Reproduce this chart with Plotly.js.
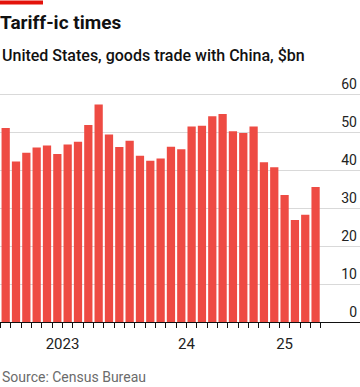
<!DOCTYPE html>
<html>
<head>
<meta charset="utf-8">
<script src="https://cdn.plot.ly/plotly-3.0.1.min.js"></script>
<style>
  html, body { margin: 0; padding: 0; background: #ffffff; }
  #chart { width: 360px; height: 387px; }
</style>
</head>
<body>
<div id="chart"></div>
<script>
// Monthly US goods trade with China, $bn (Jan 2023 - Jul 2025)
const months = [
  '2023-01','2023-02','2023-03','2023-04','2023-05','2023-06','2023-07','2023-08','2023-09','2023-10','2023-11','2023-12',
  '2024-01','2024-02','2024-03','2024-04','2024-05','2024-06','2024-07','2024-08','2024-09','2024-10','2024-11','2024-12',
  '2025-01','2025-02','2025-03','2025-04','2025-05','2025-06','2025-07'
];
const values = [
  51.1, 42.3, 44.6, 46.0, 46.5, 44.3, 46.8, 47.5, 51.9, 57.3, 49.4, 46.1,
  47.8, 43.8, 42.5, 43.1, 46.2, 45.5, 51.5, 51.7, 54.2, 54.8, 50.3, 49.8,
  51.5, 42.1, 40.8, 33.5, 26.9, 28.3, 35.6
];
const years = ['2023', '2024', '2025'];
const yearLabels = ['2023', '24', '25'];
const yTickVals = [0, 10, 20, 30, 40, 50, 60];

// derived positions (index axis)
const xIdx = months.map((m, i) => i);
const monthBoundaries = months.map((m, i) => i - 0.5).concat([months.length - 0.5]);
const yearStarts = [];
const labelPos = [];
years.forEach(y => {
  const idx = months.map((m, i) => m.startsWith(y) ? i : -1).filter(i => i >= 0);
  labelPos.push((idx[0] + idx[idx.length - 1]) / 2);
  if (idx[0] > 0) yearStarts.push(idx[0] - 0.5);
});

const W = 360, H = 387;
const mT = 63.5, mB = 65;
const plotH = H - mT - mB;
const py = p => (H - mB - p) / plotH; // pixel -> paper y

const xRange = [-0.55, 34.3];

const trace = {
  type: 'bar',
  x: xIdx,
  y: values,
  marker: { color: '#ee4b43', line: { width: 0 } },
  hoverinfo: 'skip'
};

const layout = {
  width: W, height: H,
  margin: { l: 0, r: 0, t: mT, b: mB, pad: 0 },
  paper_bgcolor: '#ffffff',
  plot_bgcolor: 'rgba(0,0,0,0)',
  bargap: 0.2,
  showlegend: false,
  font: { family: 'Roboto, sans-serif', color: '#222' },
  title: {
    text: '<b>Tariff-ic times</b>',
    x: 0, xref: 'container', xanchor: 'left',
    y: 1 - 22.5 / H, yref: 'container', yanchor: 'middle',
    font: { family: 'Roboto, sans-serif', size: 19, color: '#111' },
    pad: { l: 0, r: 0, t: 0, b: 0 }
  },
  xaxis: {
    range: xRange,
    domain: [0, 1],
    showgrid: false,
    zeroline: false,
    showline: true, linecolor: '#111', linewidth: 1,
    tickmode: 'array', tickvals: labelPos, ticktext: yearLabels,
    ticks: 'outside', ticklen: 8, tickcolor: 'rgba(0,0,0,0)',
    tickfont: { family: 'Roboto, sans-serif', size: 15, color: '#222' },
    minor: {
      tickmode: 'array', tickvals: monthBoundaries,
      ticks: 'outside', ticklen: 5, tickwidth: 1, tickcolor: '#111', showgrid: false
    },
    fixedrange: true
  },
  xaxis2: {
    overlaying: 'x',
    anchor: 'y',
    range: xRange,
    showgrid: false, zeroline: false, showline: false,
    tickmode: 'array', tickvals: yearStarts,
    ticks: 'outside', ticklen: 8, tickwidth: 1, tickcolor: '#111',
    showticklabels: false,
    fixedrange: true
  },
  yaxis: {
    range: [0, 68],
    side: 'right',
    showgrid: true, gridcolor: '#d9d9d9', gridwidth: 1,
    zeroline: false, showline: false,
    tickmode: 'array', tickvals: yTickVals,
    ticks: '',
    ticklabelposition: 'inside top',
    tickfont: { family: 'Roboto, sans-serif', size: 14, color: '#222' },
    fixedrange: true
  },
  shapes: [
    { type: 'rect', xref: 'paper', yref: 'paper', x0: 0, x1: 43 / W, y0: py(4), y1: py(0),
      fillcolor: '#e3120b', line: { width: 0 } }
  ],
  annotations: [
    { text: 'United States, goods trade with China, $bn', xref: 'paper', yref: 'paper',
      x: 0, xanchor: 'left', y: py(55), yanchor: 'middle', showarrow: false,
      font: { family: 'Roboto, sans-serif', size: 16, weight: 500, color: '#111' } },
    { text: 'Source: Census Bureau', xref: 'paper', yref: 'paper',
      x: 0, xanchor: 'left', y: py(377), yanchor: 'middle', showarrow: false,
      font: { family: 'Roboto, sans-serif', size: 14, color: '#6b6b6b' } }
  ]
};

Plotly.newPlot('chart', [trace], layout, { staticPlot: true, displayModeBar: false });
</script>
</body>
</html>
